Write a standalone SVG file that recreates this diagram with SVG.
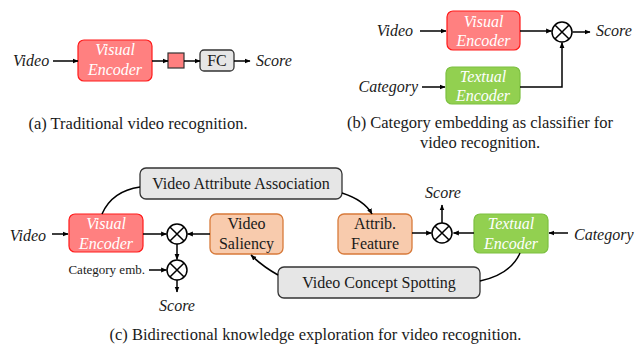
<svg xmlns="http://www.w3.org/2000/svg" width="642" height="348" viewBox="0 0 642 348">
<style>
text{font-family:"Liberation Serif","Times New Roman",serif;font-size:16px;fill:#1a1a1a}
.it{font-style:italic}
.w{fill:#ffffff;font-style:italic;text-anchor:middle}
.c{text-anchor:middle}
.red{fill:#ff8080;stroke:#ff1a1a;stroke-width:1.2}
.grn{fill:#92d050;stroke:#7cc040;stroke-width:1.2}
.org{fill:#f8cbad;stroke:#d77a3a;stroke-width:1.3}
.gry{fill:#e6e6e6;stroke:#333;stroke-width:1.3}
.ln{fill:none;stroke:#000;stroke-width:1.5}
.ox circle{fill:#fff;stroke:#000;stroke-width:1.5}
.ox path{stroke:#000;stroke-width:1.5}
.cap{font-size:16.5px;text-anchor:middle}
</style>
<defs>
<marker id="ar" viewBox="0 0 10 10" refX="9" refY="5" markerWidth="6" markerHeight="6" markerUnits="userSpaceOnUse" orient="auto">
<path d="M0,1 L10,5 L0,9 Z" fill="#000"/>
</marker>
<symbol id="otimes" viewBox="-11 -11 22 22" overflow="visible">
<circle cx="0" cy="0" r="10" fill="#fff" stroke="#000" stroke-width="1.5"/>
<path d="M-7.07,-7.07 L7.07,7.07 M-7.07,7.07 L7.07,-7.07" stroke="#000" stroke-width="1.5"/>
</symbol>
</defs>

<!-- Panel (a) -->
<g id="a-video"><text class="it" x="13" y="66">Video</text></g>
<g id="a-visual-encoder"><rect class="red" x="78" y="40" width="74" height="41" rx="6"/><text class="w" x="115" y="55">Visual</text><text class="w" x="115" y="75">Encoder</text></g>
<g id="a-feature"><rect x="168" y="53" width="16" height="15" fill="#ff7f7f" stroke="#333" stroke-width="1.2"/></g>
<g id="a-fc"><rect class="gry" x="200" y="50" width="34" height="21" rx="4"/><text class="c" x="217" y="66">FC</text></g>
<g id="a-score"><text class="it" x="256" y="66">Score</text></g>
<g id="a-caption"><text class="cap" x="138" y="128.5">(a) Traditional video recognition.</text></g>

<!-- Panel (b) -->
<g id="b-video"><text class="it" x="413" y="36" text-anchor="end">Video</text></g>
<g id="b-visual-encoder"><rect class="red" x="447" y="11" width="73" height="39" rx="6"/><text class="w" x="483.5" y="26.5">Visual</text><text class="w" x="483.5" y="46">Encoder</text></g>
<g id="b-category"><text class="it" x="418" y="92" text-anchor="end">Category</text></g>
<g id="b-textual-encoder"><rect class="grn" x="446" y="67" width="74" height="37" rx="6"/><text class="w" x="483" y="82">Textual</text><text class="w" x="483" y="101">Encoder</text></g>
<g id="b-otimes"><use href="#otimes" x="551" y="21" width="22" height="22"/></g>
<g id="b-score"><text class="it" x="596" y="36">Score</text></g>
<g id="b-caption"><text class="cap" x="480" y="128">(b) Category embedding as classifier for</text><text class="cap" x="480" y="147.5">video recognition.</text></g>

<!-- Panel (c) -->
<g id="c-video"><text class="it" x="46" y="241" text-anchor="end">Video</text></g>
<g id="c-visual-encoder"><rect class="red" x="69" y="214" width="74" height="38" rx="6"/><text class="w" x="106" y="228.5">Visual</text><text class="w" x="106" y="248.5">Encoder</text></g>
<g id="c-otimes1"><use href="#otimes" x="166" y="223" width="22" height="22"/></g>
<g id="c-otimes2"><use href="#otimes" x="166" y="259" width="22" height="22"/></g>
<g id="c-category-emb"><text x="145" y="274" text-anchor="end" style="font-size:13px">Category emb.</text></g>
<g id="c-score1"><text class="it c" x="177" y="311">Score</text></g>
<g id="c-video-saliency"><rect class="org" x="210" y="214" width="73" height="40" rx="6"/><text class="c" x="246.5" y="228.5">Video</text><text class="c" x="246.5" y="248.5">Saliency</text></g>
<g id="c-vaa"><rect class="gry" x="140" y="168" width="202" height="31" rx="6"/><text class="c" x="241" y="189">Video Attribute Association</text></g>
<g id="c-attrib"><rect class="org" x="338" y="214" width="74" height="40" rx="6"/><text class="c" x="375" y="228.5">Attrib.</text><text class="c" x="375" y="248.5">Feature</text></g>
<g id="c-otimes3"><use href="#otimes" x="431" y="222" width="22" height="22"/></g>
<g id="c-score2"><text class="it c" x="443" y="198">Score</text></g>
<g id="c-textual-encoder"><rect class="grn" x="474" y="214" width="74" height="39" rx="6"/><text class="w" x="511" y="229">Textual</text><text class="w" x="511" y="249">Encoder</text></g>
<g id="c-category"><text class="it" x="574" y="240">Category</text></g>
<g id="c-vcs"><rect class="gry" x="278" y="267" width="202" height="31" rx="6"/><text class="c" x="379" y="288">Video Concept Spotting</text></g>
<g id="c-caption"><text class="cap" x="315.5" y="340">(c) Bidirectional knowledge exploration for video recognition.</text></g>

<!-- Connectors -->
<g id="connectors" class="ln">
<path d="M53,61 H78" marker-end="url(#ar)"/>
<path d="M152,61 H168" marker-end="url(#ar)"/>
<path d="M184,61 H200" marker-end="url(#ar)"/>
<path d="M234,61 H250" marker-end="url(#ar)"/>

<path d="M420,31 H446" marker-end="url(#ar)"/>
<path d="M520,31 H551.5" marker-end="url(#ar)"/>
<path d="M572.5,32 H590" marker-end="url(#ar)"/>
<path d="M422,87 H445" marker-end="url(#ar)"/>
<path d="M520,87 H562 V42.5" marker-end="url(#ar)"/>

<path d="M52,234 H68" marker-end="url(#ar)"/>
<path d="M143,234 H166.5" marker-end="url(#ar)"/>
<path d="M210,234 H187.5" marker-end="url(#ar)"/>
<path d="M177,244 V259.5" marker-end="url(#ar)"/>
<path d="M149,270 H166.5" marker-end="url(#ar)"/>
<path d="M177,280 V292" marker-end="url(#ar)"/>
<path d="M102,214 Q112,191 140,187"/>
<path d="M342,193 Q364,200 372,214" marker-end="url(#ar)"/>
<path d="M412,233 H431.5" marker-end="url(#ar)"/>
<path d="M474,233 H453.5" marker-end="url(#ar)"/>
<path d="M442,223 V205" marker-end="url(#ar)"/>
<path d="M568,233 H549" marker-end="url(#ar)"/>
<path d="M520,253 Q511,274 480,281"/>
<path d="M278,275 Q262,266 251,255" marker-end="url(#ar)"/>
</g>
</svg>
